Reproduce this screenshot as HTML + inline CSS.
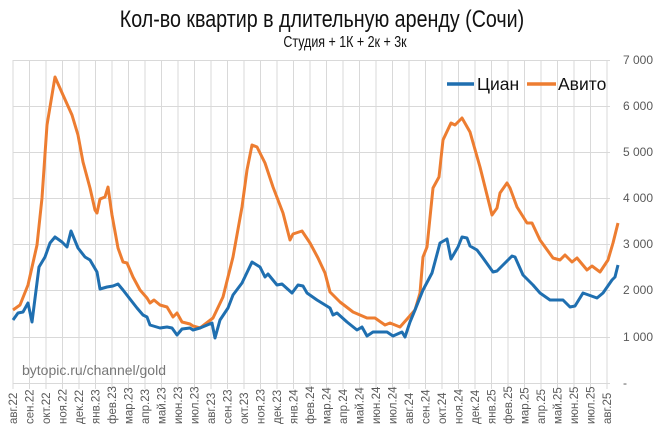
<!DOCTYPE html>
<html><head><meta charset="utf-8"><style>
html,body{margin:0;padding:0;background:#fff;}
svg{display:block;font-family:"Liberation Sans",sans-serif;}
</style></head><body>
<svg width="663" height="433" viewBox="0 0 663 433" xmlns="http://www.w3.org/2000/svg">
<rect width="663" height="433" fill="#fff"/>
<g stroke="#d9d9d9" stroke-width="1">
<line x1="13" y1="60.5" x2="610" y2="60.5"/>
<line x1="13" y1="106.5" x2="610" y2="106.5"/>
<line x1="13" y1="152.5" x2="610" y2="152.5"/>
<line x1="13" y1="198.5" x2="610" y2="198.5"/>
<line x1="13" y1="244.5" x2="610" y2="244.5"/>
<line x1="13" y1="290.5" x2="610" y2="290.5"/>
<line x1="13" y1="337.5" x2="610" y2="337.5"/>
<line x1="13" y1="383.5" x2="610" y2="383.5"/>
</g>
<g stroke="#d9d9d9" stroke-width="1" id="vg"></g>
<g font-size="12" fill="#595959" text-anchor="start">
<text x="623" y="64">7 000</text>
<text x="623" y="110">6 000</text>
<text x="623" y="156">5 000</text>
<text x="623" y="202">4 000</text>
<text x="623" y="248">3 000</text>
<text x="623" y="294">2 000</text>
<text x="623" y="341">1 000</text>
<text x="623" y="387">-</text>
</g>
<g id="xl" font-size="11.5" fill="#595959"></g>
<text x="322" y="27" text-anchor="middle" font-size="24" fill="#111" transform="translate(322 0) scale(0.82 1) translate(-322 0)">Кол-во квартир в длительную аренду (Сочи)</text>
<text x="345" y="47" text-anchor="middle" font-size="16" fill="#111" transform="translate(345 0) scale(0.78 1) translate(-345 0)">Студия + 1К + 2к + 3к</text>
<text x="22" y="375" font-size="14" fill="#777">bytopic.ru/channel/gold</text>
<line x1="447" y1="84" x2="474" y2="84" stroke="#1f6fb0" stroke-width="3.5"/>
<text x="477" y="90" font-size="17.5" fill="#111">Циан</text>
<line x1="527" y1="84" x2="556" y2="84" stroke="#ed7d31" stroke-width="3.5"/>
<text x="558" y="90" font-size="17.5" fill="#111">Авито</text>
<polyline fill="none" stroke="#ed7d31" stroke-width="3" stroke-linejoin="round" points="13,310 20,305 28,285 37,245 42,198 47,125 55,77 63,95 72,115 78,135 83,162 90,188 95,210 97,213 100,199 105,197 108,187 112,215 118,248 123,262 127,263 133,277 140,290 147,298 150,303 154,300 160,305 167,307 173,317 177,313 182,322 190,324 193,326 200,328 213,318 223,297 233,257 242,207 247,170 252,145 257,147 265,163 273,187 283,213 290,240 293,234 302,231 310,243 318,258 325,273 330,292 340,302 353,312 367,318 375,318 385,325 390,323 400,327 408,318 415,310 420,293 423,257 427,247 433,188 439,177 443,140 451,123 455,125 462,118 470,132 480,167 492,215 497,208 500,193 507,183 510,188 517,207 527,223 532,223 540,240 553,258 560,260 565,255 572,262 577,258 587,270 592,266 600,272 608,260 613,243 618,223"/>
<polyline fill="none" stroke="#1f6fb0" stroke-width="3" stroke-linejoin="round" points="13,320 18,313 23,312 28,303 32,322 39,267 45,257 50,243 55,237 62,242 67,247 71,231 78,248 85,257 90,260 97,272 100,289 107,287 113,286 118,284 123,290 137,308 143,315 147,317 150,325 160,328 167,327 172,328 177,335 182,329 190,328 193,330 200,328 212,323 215,338 220,320 228,308 233,295 242,283 252,262 260,267 265,277 268,274 277,285 282,284 292,293 298,285 303,286 307,293 317,300 330,308 333,315 337,313 347,322 357,330 362,327 367,336 373,332 387,332 393,336 402,332 405,337 410,322 415,310 423,290 432,273 440,243 447,239 451,259 458,247 462,237 467,238 470,246 477,250 483,258 493,272 497,271 503,265 512,256 515,257 523,275 533,285 540,293 550,300 558,300 563,300 570,307 575,306 583,293 597,298 603,293 612,280 615,277 618,265"/>
<script>
var m=["авг","сен","окт","ноя","дек","янв","фев","мар","апр","май","июн","июл"];
var vg=document.getElementById("vg"),xl=document.getElementById("xl"),ns="http://www.w3.org/2000/svg";
for(var i=0;i<=36;i++){var x=13+i*16.5;
var l=document.createElementNS(ns,"line");l.setAttribute("x1",x);l.setAttribute("x2",x);l.setAttribute("y1",60);l.setAttribute("y2",389);vg.appendChild(l);
var yr=22+Math.floor((i+7)/12);var t=document.createElementNS(ns,"text");
t.setAttribute("transform","translate("+(x+4)+",424) rotate(-90)");t.textContent=m[i%12]+"."+yr;xl.appendChild(t);}
</script>
</svg>
</body></html>
